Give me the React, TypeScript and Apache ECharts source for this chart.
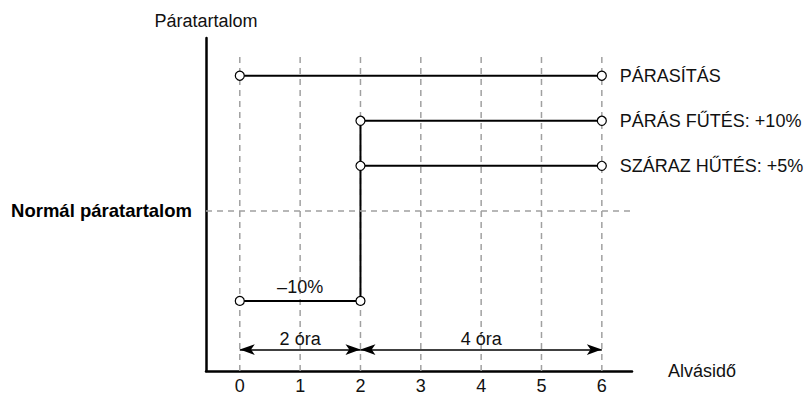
import React, { useEffect, useRef } from "react";
import * as echarts from "echarts";

const xTicks = [0, 1, 2, 3, 4, 5, 6];
const normalLevel = 100;
const lineNames = ["PÁRASÍTÁS", "PÁRÁS FŰTÉS: +10%", "SZÁRAZ HŰTÉS: +5%"];
const lineStarts = [0, 2, 2];
const lineEnds = [6, 6, 6];
const lineLevels = [115, 110, 105];
const lowStart = 0;
const lowEnd = 2;
const lowLevel = 90;
const lowLabel = "–10%";
const stepX = 2;
const durationStarts = [0, 2];
const durationEnds = [2, 6];
const durationLabels = ["2 óra", "4 óra"];
const durationLevel = 84.6;
const yMin = 82.22;
const yMax = 119.19;
const gridTopValue = 117.2;
const yName = "Páratartalom";
const xName = "Alvásidő";
const normalName = "Normál páratartalom";

const FONT = "'Liberation Sans', Arial, sans-serif";
const TXT = "#111";
const FS = 18;

export default function App() {
  const ref = useRef<HTMLDivElement>(null);
  useEffect(() => {
    if (!ref.current) return;
    const chart = echarts.init(ref.current, null, { renderer: "svg" });
    const solid = { color: "#000", width: 2, type: "solid" as const };
    const mainSeries = lineNames.map((name, i) => ({
      name,
      type: "line",
      z: 3,
      data: [
        [lineStarts[i], lineLevels[i]],
        [lineEnds[i], lineLevels[i]],
      ],
      symbol: "circle",
      symbolSize: 9,
      showSymbol: true,
      itemStyle: { color: "#fff", borderColor: "#000", borderWidth: 1.2 },
      lineStyle: solid,
      endLabel: {
        show: true,
        formatter: "{a}",
        distance: 18,
        fontFamily: FONT,
        fontSize: FS,
        color: TXT,
      },
    }));
    const gridData: any[] = [];
    xTicks.forEach((x, i) => {
      if (i > 0) gridData.push(["-", "-"]);
      gridData.push([x, yMin]);
      gridData.push([x, gridTopValue]);
    });
    const option = {
      animation: false,
      grid: { left: 206, top: 38, width: 426, height: 333, outerBoundsMode: "none", containLabel: false },
      xAxis: {
        type: "value",
        min: -0.56,
        max: 6.5,
        minInterval: 1,
        maxInterval: 1,
        name: xName,
        nameLocation: "end",
        nameGap: 36,
        nameTextStyle: { fontFamily: FONT, fontSize: FS, color: TXT },
        axisLine: { show: true, onZero: false, lineStyle: { color: "#000", width: 2.5 } },
        axisTick: { show: false },
        splitLine: { show: false },
        axisLabel: {
          margin: 5,
          fontFamily: FONT,
          fontSize: FS,
          lineHeight: 20,
          color: TXT,
          formatter: (v: number) =>
            xTicks.indexOf(v) >= 0 ? String(v) : "",
        },
      },
      yAxis: {
        type: "value",
        min: yMin,
        max: yMax,
        name: yName,
        nameLocation: "end",
        nameGap: 8,
        nameTextStyle: { fontFamily: FONT, fontSize: FS, color: TXT, align: "center" },
        axisLine: { show: true, onZero: false, lineStyle: { color: "#000", width: 2.5 } },
        axisTick: { show: false },
        axisLabel: { show: false },
        splitLine: { show: false },
      },
      series: [
        {
          name: "grid",
          type: "line",
          z: 1,
          data: gridData,
          connectNulls: false,
          showSymbol: false,
          symbol: "none",
          silent: true,
          lineStyle: { color: "#a0a0a0", width: 1.5, type: [6, 5] },
          markLine: {
            silent: true,
            symbol: "none",
            animation: false,
            lineStyle: { color: "#a0a0a0", width: 1.5, type: [6, 5] },
            data: [
              {
                yAxis: normalLevel,
                label: {
                  show: true,
                  position: "start",
                  distance: 14,
                  formatter: normalName,
                  fontFamily: FONT,
                  fontSize: 18.5,
                  fontWeight: "bold",
                  color: "#000",
                },
              },
            ],
          },
        },
        {
          name: "step",
          type: "line",
          z: 2,
          data: [
            [stepX, lowLevel],
            [stepX, lineLevels[1]],
          ],
          showSymbol: false,
          symbol: "none",
          lineStyle: solid,
        },
        {
          name: "low",
          type: "line",
          z: 3,
          data: [
            [lowStart, lowLevel],
            [lowEnd, lowLevel],
          ],
          symbol: "circle",
          symbolSize: 9,
          itemStyle: { color: "#fff", borderColor: "#000", borderWidth: 1.2 },
          lineStyle: solid,
          markPoint: {
            symbol: "circle",
            symbolSize: 0,
            silent: true,
            data: [
              {
                coord: [(lowStart + lowEnd) / 2, lowLevel],
                label: {
                  show: true,
                  position: "top",
                  distance: 5,
                  formatter: lowLabel,
                  fontFamily: FONT,
                  fontSize: FS,
                  color: TXT,
                },
              },
            ],
          },
        },
        ...mainSeries,
        {
          name: "durations",
          type: "line",
          z: 2,
          data: [],
          markLine: {
            silent: true,
            symbol: ["arrow", "arrow"],
            symbolSize: [8, 15],
            lineStyle: { color: "#000", width: 1.5, type: "solid" },
            label: {
              show: true,
              position: "middle",
              distance: 2,
              fontFamily: FONT,
              fontSize: FS,
              color: TXT,
            },
            data: durationLabels.map((lab, i) => [
              {
                coord: [durationStarts[i], durationLevel],
                name: lab,
                label: { formatter: lab },
              },
              { coord: [durationEnds[i], durationLevel] },
            ]),
          },
        },
      ],
    };
    chart.setOption(option as any);
    return () => chart.dispose();
  }, []);
  return (
    <div
      ref={ref}
      style={{ position: "absolute", left: 0, top: 0, width: 811, height: 396 }}
    />
  );
}
